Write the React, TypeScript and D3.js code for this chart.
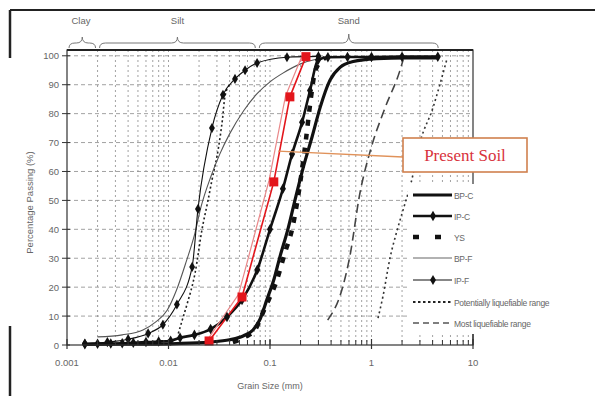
import { useEffect, useRef } from "react"
import * as d3 from "d3"

type Pt = [number, number]

// axis ticks
const xTickValues = [0.001, 0.01, 0.1, 1, 10]
const xTickLabels = ["0.001", "0.01", "0.1", "1", "10"]
const yTickValues = [0, 10, 20, 30, 40, 50, 60, 70, 80, 90, 100]

// soil classes on top (mm)
const soilClasses = ["Clay", "Silt", "Sand"]
const soilBounds = [0.001, 0.002, 0.075, 4.75]

// grain size (mm), percent passing
const bpC: Pt[] = [
  [0.0015, 0.2], [0.005, 0.3], [0.012, 0.5], [0.025, 1], [0.04, 1.8], [0.055, 3.2],
  [0.068, 5.2], [0.08, 9], [0.093, 15.6], [0.11, 23], [0.125, 30.4], [0.15, 40],
  [0.176, 50], [0.215, 62], [0.26, 72], [0.311, 82], [0.389, 91.5], [0.49, 96],
  [0.66, 98], [1.12, 99], [2.2, 99.3], [4.4, 99.3]
]
const ipC: Pt[] = [
  [0.0015, 0.3], [0.002, 0.4], [0.0027, 0.5], [0.0035, 0.6], [0.0045, 0.8], [0.006, 1],
  [0.008, 1.2], [0.0105, 1.5], [0.013, 2.5], [0.018, 3.5], [0.026, 5.5], [0.0377, 9.7],
  [0.053, 15.6], [0.075, 26], [0.1, 40], [0.134, 54], [0.165, 66], [0.207, 77],
  [0.248, 88], [0.297, 98.5], [0.372, 99.5], [0.58, 99.6], [1.0, 99.6], [2.0, 99.7], [4.5, 99.7]
]
const ys: Pt[] = [
  [0.043, 1], [0.057, 2.8], [0.071, 5.2], [0.089, 12.8], [0.117, 22.5], [0.14, 31.8],
  [0.165, 40], [0.2, 57], [0.227, 71.6], [0.25, 84], [0.28, 95], [0.35, 99.3]
]
const bpF: Pt[] = [
  [0.002, 2.8], [0.0035, 3.5], [0.0056, 5.2], [0.0075, 8], [0.0097, 12], [0.012, 19],
  [0.015, 29], [0.018, 38], [0.021, 48], [0.026, 58], [0.032, 66], [0.04, 73],
  [0.055, 81], [0.075, 87], [0.1, 91], [0.134, 94], [0.2, 97.2], [0.3, 99], [0.4, 99.6]
]
const ipF: Pt[] = [
  [0.0015, 0.5], [0.0025, 1], [0.004, 2], [0.0063, 4], [0.0088, 7], [0.0121, 14],
  [0.0171, 27], [0.0195, 47], [0.0268, 75], [0.0344, 86.5], [0.0452, 92], [0.0568, 95],
  [0.0746, 97.5], [0.147, 99.5], [0.3, 99.8]
]
const potentialFine: Pt[] = [
  [0.0125, 4], [0.0135, 8], [0.0152, 14], [0.0183, 25], [0.0214, 40], [0.0245, 50],
  [0.0268, 57], [0.031, 68], [0.034, 78], [0.036, 86], [0.04, 90]
]
const potentialCoarse: Pt[] = [
  [1.16, 9.3], [1.3, 17], [1.52, 30], [1.8, 40], [2.1, 48], [2.45, 56], [3.0, 70],
  [4.03, 82], [4.8, 91], [5.5, 98.5]
]
const mostCoarse: Pt[] = [
  [0.37, 8.6], [0.51, 19], [0.61, 30.4], [0.77, 52.6], [0.97, 67], [1.36, 82],
  [1.91, 95], [2.05, 98.6]
]
const presentSoil: Pt[] = [
  [0.0251, 1.4], [0.053, 16.6], [0.109, 56.4], [0.157, 85.8], [0.226, 99.7]
]
const presentSoilEdge: Pt[] = [
  [0.024, 1.6], [0.049, 17.5], [0.098, 57], [0.142, 86], [0.205, 99.7]
]

const legendItems = ["BP-C", "IP-C", "YS", "BP-F", "IP-F", "Potentially liquefiable range", "Most liquefiable range"]

const W = 595
const H = 396
const font = "'Liberation Sans', Arial, sans-serif"

export default function App() {
  const ref = useRef<SVGSVGElement | null>(null)

  useEffect(() => {
    document.body.style.margin = "0"
    const svg = d3.select(ref.current)
    svg.selectAll("*").remove()

    const left = 67, right = 473, top = 50, bottom = 345

    const x = d3.scaleLog().domain([0.001, 10]).range([left, right])
    const y = d3.scaleLinear().domain([0, 102]).range([bottom, top])

    svg.append("rect").attr("width", W).attr("height", H).attr("fill", "#fff")

    // outer frame bits
    svg.append("line").attr("x1", 10).attr("x2", W).attr("y1", 10).attr("y2", 10)
      .attr("stroke", "#222").attr("stroke-width", 2)
    svg.append("line").attr("x1", 10).attr("x2", 10).attr("y1", 10).attr("y2", 58)
      .attr("stroke", "#222").attr("stroke-width", 2.5)
    svg.append("line").attr("x1", 10).attr("x2", 10).attr("y1", 326).attr("y2", H)
      .attr("stroke", "#222").attr("stroke-width", 2.5)

    // grid
    const minor: number[] = []
    for (let e = -3; e < 1; e++) {
      for (let m = 1; m <= 9; m++) minor.push(m * Math.pow(10, e))
    }
    minor.push(10)
    const grid = svg.append("g")
    grid.selectAll("line.v").data(minor.filter(v => v > 0.001 && v < 10)).enter()
      .append("line")
      .attr("x1", d => x(d)).attr("x2", d => x(d))
      .attr("y1", top).attr("y2", bottom)
      .attr("stroke", "#8a8a8a").attr("stroke-width", 0.8)
      .attr("stroke-dasharray", "2,3")
    grid.selectAll("line.h").data(yTickValues.filter(v => v > 0)).enter()
      .append("line")
      .attr("x1", left).attr("x2", right)
      .attr("y1", d => y(d)).attr("y2", d => y(d))
      .attr("stroke", "#8a8a8a").attr("stroke-width", 0.8)
      .attr("stroke-dasharray", "4,3")

    const smooth = d3.line<Pt>()
      .x(d => x(d[0]))
      .y(d => y(d[1]))
      .curve(d3.curveMonotoneX)
    const straight = d3.line<Pt>()
      .x(d => x(d[0]))
      .y(d => y(d[1]))

    const drawCurve = (data: Pt[], stroke: string, width: number, dash?: string, gen = smooth) => {
      svg.append("path")
        .attr("d", gen(data))
        .attr("fill", "none")
        .attr("stroke", stroke)
        .attr("stroke-width", width)
        .attr("stroke-dasharray", dash ?? null)
        .attr("stroke-linejoin", "round")
    }

    drawCurve(potentialFine, "#222", 1.6, "2,2.5")
    drawCurve(potentialCoarse, "#333", 1.6, "2,3")
    drawCurve(mostCoarse, "#444", 1.6, "9,5")
    drawCurve(bpF, "#555", 1.1)
    drawCurve(ipF, "#111", 1.1)
    drawCurve(ys, "#111", 4.5, "6,8")
    drawCurve(bpC, "#111", 3.2)
    drawCurve(ipC, "#111", 2.6)
    drawCurve(presentSoilEdge, "#e9888a", 1.2, undefined, straight)
    drawCurve(presentSoil, "#e3161c", 1.6, undefined, straight)

    const diamond = d3.symbol().type(d3.symbolDiamond)
    svg.append("g").selectAll("path").data(ipC).enter().append("path")
      .attr("d", diamond.size(32)())
      .attr("transform", d => `translate(${x(d[0])},${y(d[1])})`)
      .attr("fill", "#111")
    svg.append("g").selectAll("path").data(ipF).enter().append("path")
      .attr("d", diamond.size(30)())
      .attr("transform", d => `translate(${x(d[0])},${y(d[1])})`)
      .attr("fill", "#111")
    svg.append("g").selectAll("rect").data(presentSoil).enter().append("rect")
      .attr("x", d => x(d[0]) - 4.5).attr("y", d => y(d[1]) - 4.5)
      .attr("width", 9).attr("height", 9)
      .attr("fill", "#e3161c")

    // frame of the plot
    svg.append("rect")
      .attr("x", left).attr("y", top)
      .attr("width", right - left).attr("height", bottom - top)
      .attr("fill", "none").attr("stroke", "#333").attr("stroke-width", 1.2)
    svg.append("line").attr("x1", left).attr("x2", right).attr("y1", top).attr("y2", top)
      .attr("stroke", "#222").attr("stroke-width", 2)

    // x axis ticks
    const axis = svg.append("g")
    axis.selectAll("line.mt").data(minor.filter(v => v > 0.001 && v < 10)).enter()
      .append("line")
      .attr("x1", d => x(d)).attr("x2", d => x(d))
      .attr("y1", bottom - 5).attr("y2", bottom)
      .attr("stroke", "#333").attr("stroke-width", 1)
    axis.selectAll("line.xt").data(xTickValues).enter()
      .append("line")
      .attr("x1", d => x(d)).attr("x2", d => x(d))
      .attr("y1", bottom - 6).attr("y2", bottom + 4)
      .attr("stroke", "#333").attr("stroke-width", 1.2)
    axis.selectAll("text.xl").data(xTickValues).enter()
      .append("text")
      .attr("x", d => x(d)).attr("y", bottom + 21)
      .attr("text-anchor", "middle")
      .attr("font-family", font).attr("font-size", 9.5).attr("fill", "#666")
      .text((d, i) => xTickLabels[i])

    axis.selectAll("line.yt").data(yTickValues).enter()
      .append("line")
      .attr("x1", left - 5).attr("x2", left + 3)
      .attr("y1", d => y(d)).attr("y2", d => y(d))
      .attr("stroke", "#333").attr("stroke-width", 1)
    axis.selectAll("text.yl").data(yTickValues).enter()
      .append("text")
      .attr("x", left - 8).attr("y", d => y(d) + 3.5)
      .attr("text-anchor", "end")
      .attr("font-family", font).attr("font-size", 9.5).attr("fill", "#666")
      .text(d => d)

    svg.append("text")
      .attr("x", (left + right) / 2).attr("y", 389)
      .attr("text-anchor", "middle")
      .attr("font-family", font).attr("font-size", 9).attr("fill", "#666")
      .text("Grain Size (mm)")
    svg.append("text")
      .attr("transform", `translate(33,${(top + bottom) / 2 + 5}) rotate(-90)`)
      .attr("text-anchor", "middle")
      .attr("font-family", font).attr("font-size", 9.5).attr("fill", "#666")
      .text("Percentage Passing (%)")

    // soil class braces
    const brace = (x1: number, x2: number, yb: number, peak: number) => {
      const m = (x1 + x2) / 2
      return `M${x1},${yb + 5} Q${x1},${yb} ${x1 + 6},${yb} L${m - 6},${yb} Q${m},${yb} ${m},${yb - peak}` +
        ` Q${m},${yb} ${m + 6},${yb} L${x2 - 6},${yb} Q${x2},${yb} ${x2},${yb + 5}`
    }
    soilClasses.forEach((name, i) => {
      const x1 = x(soilBounds[i]) + 2
      const x2 = x(soilBounds[i + 1]) - 2
      svg.append("path")
        .attr("d", brace(x1, x2, 43, i === 2 ? 9 : 6))
        .attr("fill", "none").attr("stroke", "#777").attr("stroke-width", 1)
      svg.append("text")
        .attr("x", i === 0 ? x1 + 12 : (x1 + x2) / 2).attr("y", 24)
        .attr("text-anchor", "middle")
        .attr("font-family", font).attr("font-size", 9.5).attr("fill", "#666")
        .text(name)
    })

    // legend on a white patch that hides the grid
    svg.append("rect")
      .attr("x", 408).attr("y", 184).attr("width", 182).attr("height", 150)
      .attr("fill", "#fff")
    const lg = svg.append("g").attr("transform", "translate(413,195)")
    legendItems.forEach((name, i) => {
      const row = lg.append("g").attr("transform", `translate(0,${[0, 21, 42, 63, 85, 107, 128][i]})`)
      const seg = (w: number, stroke: string, dash?: string) =>
        row.append("line").attr("x1", 0).attr("x2", 39).attr("y1", 0).attr("y2", 0)
          .attr("stroke", stroke).attr("stroke-width", w)
          .attr("stroke-dasharray", dash ?? null)
      if (i === 0) seg(3.2, "#111")
      if (i === 1) {
        seg(2.6, "#111")
        row.append("path").attr("d", diamond.size(32)()).attr("transform", "translate(20,0)").attr("fill", "#111")
      }
      if (i === 2) seg(4.5, "#111", "6,16")
      if (i === 3) seg(1.1, "#666")
      if (i === 4) {
        seg(1.1, "#111")
        row.append("path").attr("d", diamond.size(30)()).attr("transform", "translate(20,0)").attr("fill", "#111")
      }
      if (i === 5) seg(1.8, "#222", "2.5,2.5")
      if (i === 6) seg(1.3, "#555", "6,4")
      row.append("text")
        .attr("x", 41).attr("y", 3.5)
        .attr("font-family", font).attr("font-size", 8.5).attr("fill", "#666")
        .attr("letter-spacing", -0.3)
        .text(name)
    })
    svg.append("line").attr("x1", right).attr("x2", right).attr("y1", 334).attr("y2", bottom)
      .attr("stroke", "#333").attr("stroke-width", 1.2)

    // Present Soil callout
    svg.append("line")
      .attr("x1", x(0.12)).attr("y1", y(67))
      .attr("x2", 403).attr("y2", 157)
      .attr("stroke", "#e0925a").attr("stroke-width", 1.3)
    svg.append("rect")
      .attr("x", 403).attr("y", 138).attr("width", 124).attr("height", 34)
      .attr("fill", "#fff").attr("stroke", "#d0804e").attr("stroke-width", 1.6)
    svg.append("text")
      .attr("x", 465).attr("y", 161)
      .attr("text-anchor", "middle")
      .attr("font-family", "'Liberation Serif', 'DejaVu Serif', serif")
      .attr("font-size", 17).attr("fill", "#d8323c")
      .text("Present Soil")
  }, [])

  return <svg ref={ref} width={W} height={H} style={{ display: "block" }} />
}
